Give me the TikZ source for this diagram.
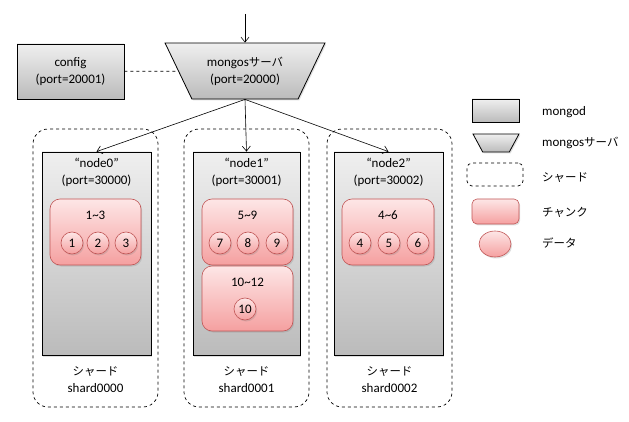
\documentclass[tikz,border=0pt]{standalone}
\usepackage{fontspec}
\setmainfont{Carlito}
\newfontfamily\jp{Noto Sans CJK JP}[Scale=0.88]
\usetikzlibrary{shapes.geometric,arrows.meta,shadows}
\definecolor{gtop}{HTML}{EFEFEF}
\definecolor{gbot}{HTML}{BBBBBB}
\definecolor{ptop}{HTML}{FDE6E6}
\definecolor{pbot}{HTML}{F5A0A0}
\definecolor{pborder}{HTML}{C05555}
\begin{document}
\begin{tikzpicture}[x=1pt,y=-1pt,font=\fontsize{13}{17}\selectfont,
  shadowed/.style={drop shadow={opacity=0.25,shadow xshift=1.2pt,shadow yshift=-1.5pt}},
  graybox/.style={draw=black,line width=0.8pt,top color=gtop,bottom color=gbot,inner sep=0pt,shadowed},
  trap/.style={trapezium,shape border rotate=180,trapezium stretches=true,draw=black,line width=0.8pt,top color=gtop,bottom color=gbot,inner sep=2pt,shadowed,align=center},
  sharded/.style={draw=black,dashed,line width=0.7pt,rounded corners=15pt,inner sep=0pt},
  chunkbox/.style={draw=pborder,line width=0.6pt,top color=ptop,bottom color=pbot,rounded corners=10pt,inner sep=0pt,shadowed},
  datum/.style={circle,draw=pborder,line width=0.6pt,top color=ptop,bottom color=pbot,minimum size=22pt,inner sep=0pt,shadowed},
  txt/.style={align=center,inner sep=0pt},
  arr/.style={line width=0.6pt,-{Straight Barb[length=5pt,width=8pt]}},
  leglbl/.style={anchor=west,inner sep=0pt}]
\useasboundingbox (0,0) rectangle (629,422);

% shards
\node[sharded,minimum width=125pt,minimum height=278pt] (s0) at (95.5,268) {};
\node[sharded,minimum width=125pt,minimum height=278pt] (s1) at (246.5,268) {};
\node[sharded,minimum width=125pt,minimum height=278pt] (s2) at (389.5,268) {};

% top
\node[graybox,minimum width=107pt,minimum height=55pt,align=center] (config) at (70.5,71.5) {config\\(port=20001)};
\node[trap,minimum width=160pt,minimum height=56pt,trapezium angle=58] (mongos) at (245,71) {mongos{\jp サーバ}\\(port=20000)};
\coordinate (entry) at (245,14);
\draw[arr] (entry) -- (mongos);
\draw[dashed,line width=0.7pt] (config) -- (mongos);

% mongod boxes
\node[graybox,minimum width=109pt,minimum height=203pt] (n0) at (96.5,253.5) {};
\node[graybox,minimum width=107pt,minimum height=203pt] (n1) at (246.5,253.5) {};
\node[graybox,minimum width=109pt,minimum height=203pt] (n2) at (388.5,253.5) {};
\node[txt] (n0t) at (96.5,172) {“node0”\\(port=30000)};
\node[txt] (n1t) at (246.5,172) {“node1”\\(port=30001)};
\node[txt] (n2t) at (388.5,172) {“node2”\\(port=30002)};

\draw[arr] (mongos.south) -- (n0.north);
\draw[arr] (mongos.south) -- (n1.north);
\draw[arr] (mongos.south) -- (n2.north);

% chunks
\node[chunkbox,minimum width=91pt,minimum height=66pt] (c0) at (95.5,232) {};
\node[txt] (c0t) at (95.5,215) {1\textasciitilde 3};
\node[datum] (d1) at (72,243) {1};
\node[datum] (d2) at (98,243) {2};
\node[datum] (d3) at (126,243) {3};

\node[chunkbox,minimum width=91pt,minimum height=66pt] (c1) at (247.5,232) {};
\node[txt] (c1t) at (247.5,215) {5\textasciitilde 9};
\node[datum] (d7) at (220,243) {7};
\node[datum] (d8) at (248,243) {8};
\node[datum] (d9) at (277,243) {9};

\node[chunkbox,minimum width=91pt,minimum height=65pt] (c2) at (247.5,298.5) {};
\node[txt] (c2t) at (247.5,282) {10\textasciitilde 12};
\node[datum] (d10) at (245,309) {10};

\node[chunkbox,minimum width=92pt,minimum height=66pt] (c3) at (388,232) {};
\node[txt] (c3t) at (388,215) {4\textasciitilde 6};
\node[datum] (d4) at (360,243) {4};
\node[datum] (d5) at (389,243) {5};
\node[datum] (d6) at (418,243) {6};

% shard labels
\node[txt] (s0t) at (95.5,380) {{\jp シャード}\\shard0000};
\node[txt] (s1t) at (246.5,380) {{\jp シャード}\\shard0001};
\node[txt] (s2t) at (389.5,380) {{\jp シャード}\\shard0002};

% legend
\node[graybox,minimum width=47pt,minimum height=23pt] (lg1) at (495.5,110.5) {};
\node[trap,minimum width=46pt,minimum height=18pt,trapezium angle=70] (lg2) at (496,143) {};
\node[sharded,rounded corners=5pt,minimum width=56pt,minimum height=23pt] (lg3) at (495,174.5) {};
\node[chunkbox,rounded corners=5pt,minimum width=47pt,minimum height=25pt] (lg4) at (495.5,211.5) {};
\node[ellipse,draw=pborder,line width=0.6pt,top color=ptop,bottom color=pbot,minimum width=32pt,minimum height=26pt,inner sep=0pt,shadowed] (lg5) at (495,244) {};
\node[leglbl] (l1) at (542,112) {mongod};
\node[leglbl] (l2) at (542,143) {mongos{\jp サーバ}};
\node[leglbl] (l3) at (542,178) {\jp シャード};
\node[leglbl] (l4) at (542,212) {\jp チャンク};
\node[leglbl] (l5) at (542,243) {\jp データ};
\end{tikzpicture}
\end{document}
